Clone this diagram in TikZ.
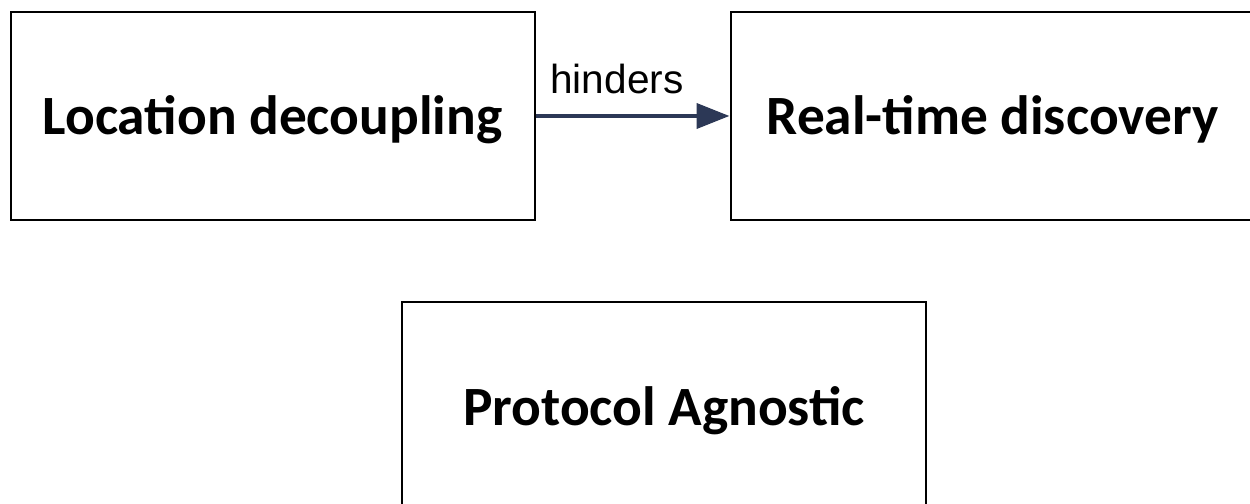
\documentclass[tikz,border=0pt]{standalone}
\usepackage{fontspec}
\setmainfont{Carlito}
\newfontfamily\lblfont{Liberation Sans}
\usepackage{xcolor}
\usetikzlibrary{arrows.meta, positioning}
\definecolor{navy}{RGB}{44,56,86}
\tikzset{
  block/.style={draw, line width=1pt, align=center, minimum width=262pt, minimum height=104pt, inner sep=0pt, text height=20pt, text depth=1pt, font=\fontsize{27.7}{32}\selectfont\bfseries},
  arrow/.style={-{Triangle[length=16.5pt, width=12.5pt]}, line width=2pt, navy},
  lbl/.style={font=\lblfont\fontsize{20.3}{24}\selectfont, inner sep=0pt, text=black}
}

\begin{document}
\begin{tikzpicture}
    \useasboundingbox (0,0) rectangle (625pt,252pt);
    \node[block] (loc) at (136.25pt,194pt) {Location decoupling};
    \node[block, right=97pt of loc] (rtd) {Real-time discovery};
    \node[block] (proto) at (332pt,48.8pt) {Protocol Agnostic};

    \draw[arrow] (loc) -- node[lbl, pos=0.42, above=10pt] (hind) {hinders} (rtd);
\end{tikzpicture}
\end{document}
